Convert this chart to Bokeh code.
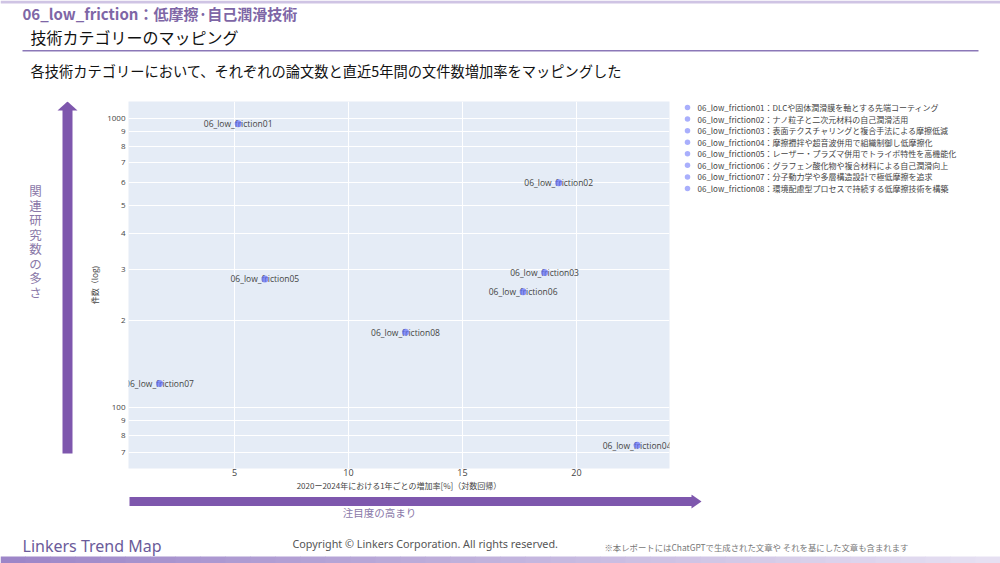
from bokeh.plotting import figure
from bokeh.layouts import column, row
from bokeh.models import ColumnDataSource, Range1d, FixedTicker
from bokeh.core.properties import value
from bokeh.embed import file_html
from bokeh.resources import INLINE

# ---------------- data ----------------
categories = ["06_low_friction01", "06_low_friction02", "06_low_friction03", "06_low_friction04",
              "06_low_friction05", "06_low_friction06", "06_low_friction07", "06_low_friction08"]
descriptions = ["DLCや固体潤滑膜を軸とする先端コーティング",
                "ナノ粒子と二次元材料の自己潤滑活用",
                "表面テクスチャリングと複合手法による摩擦低減",
                "摩擦攪拌や超音波併用で組織制御し低摩擦化",
                "レーザー・プラズマ併用でトライボ特性を高機能化",
                "グラフェン酸化物や複合材料による自己潤滑向上",
                "分子動力学や多層構造設計で極低摩擦を追求",
                "環境配慮型プロセスで持続する低摩擦技術を構築"]
growth = [5.16, 19.22, 18.6, 22.66, 6.33, 17.66, 1.71, 12.5]
counts = [957, 598, 293, 74, 278, 251, 121, 182]
x_ticks = [5, 10, 15, 20]
y_ticks = [70, 80, 90, 100, 200, 300, 400, 500, 600, 700, 800, 900, 1000]
y_tick_labels = ["7", "8", "9", "100", "2", "3", "4", "5", "6", "7", "8", "9", "1000"]

header_text = "06_low_friction：低摩擦·自己潤滑技術"
title_text = "技術カテゴリーのマッピング"
subtitle_text = "各技術カテゴリーにおいて、それぞれの論文数と直近5年間の文件数増加率をマッピングした"
x_title = "2020ー2024年における1年ごとの増加率[%]（対数回帰）"
y_title = "件数（log)"
y_arrow_text = "関連研究数の多さ"
x_arrow_text = "注目度の高まり"
footer_brand = "Linkers Trend Map"
footer_copy = "Copyright © Linkers Corporation. All rights reserved."
footer_note = "※本レポートにはChatGPTで生成された文章や それを基にした文章も含まれます"

JP = "Noto Sans CJK JP"
PURPLE = "#7e57ad"
SOFT = "#8a78a8"
MARKER = "#636efa"

# slide geometry (pixels)
ROW_TOP, ROW_BOT = 93, 494          # middle row band
FR_TOP, FR_BOT = 101, 468           # chart frame (side figures align to it)
BT, BB = FR_TOP - ROW_TOP, ROW_BOT - FR_BOT


def deco_fig(x0, x1, y0, y1, bt=0, bb=0):
    """Blank figure; data coordinates = slide pixels (y down)."""
    f = figure(width=x1 - x0, height=(y1 - y0) + bt + bb, output_backend="svg",
               toolbar_location=None, x_range=Range1d(x0, x1), y_range=Range1d(y1, y0),
               x_axis_location=None, y_axis_location=None, title=None,
               min_border_left=0, min_border_right=0, min_border_top=bt, min_border_bottom=bb)
    f.grid.visible = False
    f.outline_line_color = None
    f.background_fill_color = "white"
    f.border_fill_color = "white"
    return f


def txt(f, x, y, t, size, color, font=JP, style="normal", align="left"):
    f.text(x=[x], y=[y], text=[t], text_font=value(font), text_font_size=value(size),
           text_color=color, text_font_style=style, text_align=align, text_baseline="middle")


def mix(c1, c2, t):
    a = [int(c1[i:i + 2], 16) for i in (1, 3, 5)]
    b = [int(c2[i:i + 2], 16) for i in (1, 3, 5)]
    return "#" + "".join(f"{round(u + (v - u) * t):02x}" for u, v in zip(a, b))


# ---------------- top band ----------------
top = deco_fig(0, 1000, 0, ROW_TOP)
top.quad(left=[0], right=[1000], top=[0], bottom=[3], fill_color="#cfc4e4", line_color=None)
txt(top, 22, 12.5, header_text, "15px", "#7e66a6", style="bold")
txt(top, 30, 36, title_text, "16px", "#111111")
top.quad(left=[22], right=[978], top=[49.5], bottom=[51], fill_color="#8b78b8", line_color=None)
txt(top, 30, 70, subtitle_text, "14.25px", "#111111")

# ---------------- left band (vertical arrow) ----------------
left = deco_fig(0, 80, FR_TOP, FR_BOT, BT, BB)
left.quad(left=[62], right=[72], top=[109], bottom=[453], fill_color=PURPLE, line_color=None)
left.patch(x=[57, 67, 77], y=[110, 101, 110], fill_color=PURPLE, line_color=None)
for i, ch in enumerate(y_arrow_text):
    txt(left, 35, 190 + i * 14.5, ch, "12.5px", SOFT, align="center")

# ---------------- chart ----------------
p = figure(width=595, height=ROW_BOT - ROW_TOP, output_backend="svg", toolbar_location=None,
           title=None, y_axis_type="log", x_range=Range1d(0.35, 24.08),
           y_range=Range1d(61.5, 1142),
           min_border_left=48, min_border_right=6, min_border_top=BT, min_border_bottom=BB)
p.outline_line_color = None
p.background_fill_color = "#e5ecf6"
p.border_fill_color = "white"

p.xaxis.ticker = FixedTicker(ticks=x_ticks)
p.yaxis.ticker = FixedTicker(ticks=y_ticks)
p.yaxis.major_label_overrides = {float(t): l for t, l in zip(y_ticks, y_tick_labels)}
for ax in (p.xaxis[0], p.yaxis[0]):
    ax.axis_line_color = None
    ax.major_tick_line_color = None
    ax.minor_tick_line_color = None
    ax.major_tick_out = 0
    ax.major_tick_in = 0
    ax.major_label_text_font = "Open Sans"
    ax.major_label_text_color = "#444444"
    ax.axis_label_text_font = JP
    ax.axis_label_text_color = "#444444"
    ax.axis_label_text_font_style = "normal"
    ax.axis_label_text_font_size = "8px"
p.xaxis.major_label_text_font_size = "9px"
p.yaxis.major_label_text_font_size = "8px"
p.xaxis.major_label_standoff = 0
p.yaxis.major_label_standoff = 3
p.xaxis.axis_label = x_title
p.yaxis.axis_label = y_title
p.xaxis.axis_label_standoff = 1
p.yaxis.axis_label_standoff = 4

p.xgrid.ticker = FixedTicker(ticks=x_ticks)
p.ygrid.ticker = FixedTicker(ticks=y_ticks)
p.grid.grid_line_color = "white"
p.grid.grid_line_width = 1

src = ColumnDataSource(dict(x=growth, y=counts, name=categories))
p.text(x="x", y="y", text="name", source=src, text_align="center", text_baseline="middle",
       text_font=value("Open Sans"), text_font_size=value("8.5px"), text_color="#444444")
p.scatter(x="x", y="y", source=src, size=7, fill_color=MARKER, fill_alpha=0.7, line_color=None)

# ---------------- legend band ----------------
leg = deco_fig(675, 1000, FR_TOP, FR_BOT, BT, BB)
leg_y = [107 + i * 11.57 for i in range(len(categories))]
leg_src = ColumnDataSource(dict(
    x=[687] * len(categories), tx=[697] * len(categories), y=leg_y,
    label=[f"{c}：{d}" for c, d in zip(categories, descriptions)]))
leg.scatter(x="x", y="y", source=leg_src, size=5.5, fill_color=MARKER, fill_alpha=0.55,
            line_color=None)
leg.text(x="tx", y="y", text="label", source=leg_src, text_align="left", text_baseline="middle",
         text_font=value(JP), text_font_size=value("8px"), text_color="#444444")

# ---------------- bottom band ----------------
bottom = deco_fig(0, 1000, ROW_BOT, 563)
bottom.quad(left=[129], right=[692], top=[496.5], bottom=[505.5], fill_color=PURPLE,
            line_color=None)
bottom.patch(x=[691, 701, 691], y=[494, 501, 508], fill_color=PURPLE, line_color=None)
txt(bottom, 379, 512, x_arrow_text, "10.5px", SOFT, align="center")
txt(bottom, 22, 545, footer_brand, "16px", "#6b5b9a", font="Noto Sans")
txt(bottom, 292, 543, footer_copy, "10.8px", "#555555", font="Noto Sans")
txt(bottom, 604, 546, footer_note, "8.4px", "#777777")
nseg = 40
bottom.quad(left=[i * 1000 / nseg for i in range(nseg)],
            right=[(i + 1) * 1000 / nseg + 0.5 for i in range(nseg)],
            top=[556] * nseg, bottom=[563] * nseg,
            fill_color=[mix("#9d86c8", "#e6e0f2", i / (nseg - 1)) for i in range(nseg)],
            line_color=None)

layout = column(top, row(left, p, leg), bottom)
open("out.html", "w").write(file_html(layout, INLINE))
